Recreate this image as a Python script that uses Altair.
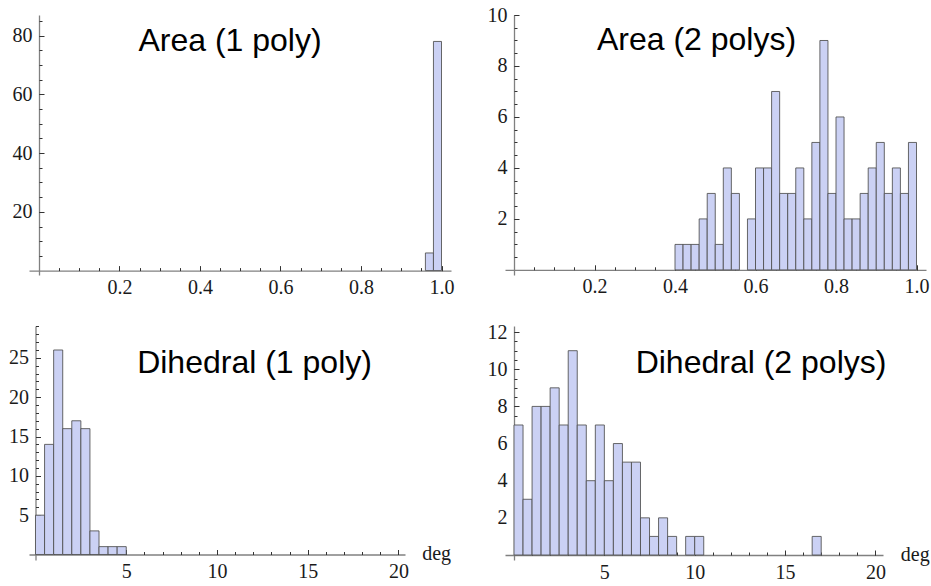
import altair as alt
import pandas as pd

# ---------------- data ----------------
# Area (1 poly): histogram bins of width 0.02
area1_bin_start = [0.96, 0.98]
area1_counts = [6, 78]

# Area (2 polys)
area2_bin_start = [0.40, 0.42, 0.44, 0.46, 0.48, 0.50, 0.52, 0.54, 0.56, 0.58,
                   0.60, 0.62, 0.64, 0.66, 0.68, 0.70, 0.72, 0.74, 0.76, 0.78,
                   0.80, 0.82, 0.84, 0.86, 0.88, 0.90, 0.92, 0.94, 0.96, 0.98]
area2_counts = [1, 1, 1, 2, 3, 1, 4, 3, 0, 2,
                4, 4, 7, 3, 3, 4, 2, 5, 9, 3,
                6, 2, 2, 3, 4, 5, 3, 4, 3, 5]
area_bin_width = 0.02

# Dihedral (1 poly): bins of width 0.5 deg
dih1_bin_start = [0.0, 0.5, 1.0, 1.5, 2.0, 2.5, 3.0, 3.5, 4.0, 4.5]
dih1_counts = [5, 14, 26, 16, 17, 16, 3, 1, 1, 1]

# Dihedral (2 polys)
dih2_bin_start = [0.0, 0.5, 1.0, 1.5, 2.0, 2.5, 3.0, 3.5, 4.0, 4.5, 5.0,
                  5.5, 6.0, 6.5, 7.0, 7.5, 8.0, 8.5, 9.0, 9.5, 10.0, 16.5]
dih2_counts = [7, 3, 8, 8, 9, 7, 11, 7, 4, 7, 4,
               6, 5, 5, 2, 1, 2, 1, 0, 1, 1, 1]
dih_bin_width = 0.5

# tick labels
area_x_ticks = [0.2, 0.4, 0.6, 0.8, 1.0]
area_x_minor = [round(0.05 * i, 2) for i in range(1, 21)]
area1_y_ticks = [20, 40, 60, 80]
area1_y_minor = [5 * i for i in range(1, 18)]
area2_y_ticks = [2, 4, 6, 8, 10]
area2_y_minor = [0.5 * i for i in range(1, 21)]
dih_x_ticks = [5, 10, 15, 20]
dih_x_minor = list(range(1, 21))
dih1_y_ticks = [5, 10, 15, 20, 25]
dih1_y_minor = list(range(1, 30))
dih2_y_ticks = [2, 4, 6, 8, 10, 12]
dih2_y_minor = [0.5 * i for i in range(1, 25)]

titles = ["Area (1 poly)", "Area (2 polys)", "Dihedral (1 poly)", "Dihedral (2 polys)"]

# ---------------- style ----------------
SERIF = "Liberation Serif"
SANS = "Liberation Sans"
FILL = "#cbd1f4"
EDGE = "#4d4d4d"
AXC = "#808080"
TKC = "#333333"
LBL = "#1a1a1a"


def panel(starts, counts, bw, title, W, H, xdom, ydom, zx, zy,
          xmaj, xmin_, ymaj, ymin_, xfmt, tdx, tdy, deg_x=None):
    df = pd.DataFrame({"start": starts, "count": counts})
    xscale = alt.Scale(domain=xdom, nice=False, zero=False)
    yscale = alt.Scale(domain=ydom, nice=False, zero=False)

    xaxis_kw = dict(orient="bottom", offset=-zy, values=xmaj, format=xfmt,
                    tickSize=0, labelPadding=7, labelFont=SERIF, labelFontSize=20,
                    labelColor=LBL, labelFlush=False, domainColor=AXC,
                    domainWidth=1.3, grid=False, minExtent=0)
    if deg_x is not None:
        xaxis_kw.update(title="deg", titleX=deg_x, titleY=5, titleAlign="left",
                        titleBaseline="alphabetic", titleFont=SERIF,
                        titleFontSize=20, titleFontWeight="normal",
                        titleColor=LBL, titleAngle=0)
    else:
        xaxis_kw.update(title=None)
    yaxis = alt.Axis(orient="left", offset=-zx, values=ymaj, format="d",
                     tickSize=0, labelPadding=7, labelFont=SERIF, labelFontSize=20,
                     labelColor=LBL, labelFlush=False, domainColor=AXC,
                     domainWidth=1.3, grid=False, title=None, minExtent=0)

    bars = (
        alt.Chart(df)
        .transform_filter("datum.count > 0")
        .transform_calculate(end=f"datum.start + {bw}")
        .mark_bar(fill=FILL, stroke=EDGE, strokeWidth=1, strokeOpacity=0.85)
        .encode(
            x=alt.X("start:Q", scale=xscale, axis=alt.Axis(**xaxis_kw)),
            x2="end:Q",
            y=alt.Y("count:Q", scale=yscale, axis=yaxis),
            y2=alt.datum(0),
        )
    )

    def xticks(vals, size):
        d = pd.DataFrame({"v": vals})
        return alt.Chart(d).mark_point(opacity=0).encode(
            x=alt.X("v:Q", scale=xscale,
                    axis=alt.Axis(orient="top", offset=-(H - zy), values=vals,
                                  tickSize=size, tickColor=TKC, tickWidth=1,
                                  minExtent=0, maxExtent=0,
                                  labels=False, domain=False, grid=False, title=None)),
            y=alt.YDatum(0, axis=None))

    def yticks(vals, size):
        d = pd.DataFrame({"v": vals})
        return alt.Chart(d).mark_point(opacity=0).encode(
            y=alt.Y("v:Q", scale=yscale,
                    axis=alt.Axis(orient="right", offset=-(W - zx), values=vals,
                                  tickSize=size, tickColor=TKC, tickWidth=1,
                                  minExtent=0, maxExtent=0,
                                  labels=False, domain=False, grid=False, title=None)),
            x=alt.XDatum(0, axis=None))

    layer = alt.layer(
        bars,
        xticks(xmaj, 5), xticks(xmin_, 3),
        yticks(ymaj, 5), yticks(ymin_, 3),
    ).resolve_axis(x="independent", y="independent").properties(
        width=W, height=H,
        title=alt.TitleParams(text=title, font=SANS, fontSize=32,
                              fontWeight="normal", color="black",
                              anchor="middle", frame="group", offset=0,
                              baseline="alphabetic", dx=tdx, dy=tdy),
    )
    return layer


p1 = panel(area1_bin_start, area1_counts, area_bin_width, titles[0],
           W=422, H=260, xdom=[-0.0248, 1.0236], ydom=[-1.5, 87.0], zx=10, zy=4.4,
           xmaj=area_x_ticks, xmin_=area_x_minor, ymaj=area1_y_ticks,
           ymin_=area1_y_minor, xfmt=".1f", tdx=-10, tdy=68)
p2 = panel(area2_bin_start, area2_counts, area_bin_width, titles[1],
           W=421, H=260, xdom=[-0.0224, 1.0236], ydom=[-0.2, 10.0], zx=9, zy=5.2,
           xmaj=area_x_ticks, xmin_=area_x_minor, ymaj=area2_y_ticks,
           ymin_=area2_y_minor, xfmt=".1f", tdx=-19, tdy=77)
p3 = panel(dih1_bin_start, dih1_counts, dih_bin_width, titles[2],
           W=376, H=234, xdom=[-0.358, 20.36], ydom=[-0.7, 29.05], zx=6.5, zy=5.5,
           xmaj=dih_x_ticks, xmin_=dih_x_minor, ymaj=dih1_y_ticks,
           ymin_=dih1_y_minor, xfmt="d", tdx=37.5, tdy=81, deg_x=392.7)
p4 = panel(dih2_bin_start, dih2_counts, dih_bin_width, titles[3],
           W=378, H=234, xdom=[-0.498, 20.42], ydom=[-0.27, 12.33], zx=9, zy=5,
           xmaj=dih_x_ticks, xmin_=dih_x_minor, ymaj=dih2_y_ticks,
           ymin_=dih2_y_minor, xfmt="d", tdx=67, tdy=83, deg_x=395.3)

chart = (
    alt.concat(p1, p2, p3, p4, columns=2,
               spacing={"row": 51, "column": 54}, bounds="flush")
    .configure_view(stroke=None)
    .configure_axis(grid=False)
    .properties(padding={"left": 8, "top": 5, "right": 0, "bottom": 0},
                background="white")
)

chart.save("out.html", embed_options={"renderer": "svg", "actions": False})
